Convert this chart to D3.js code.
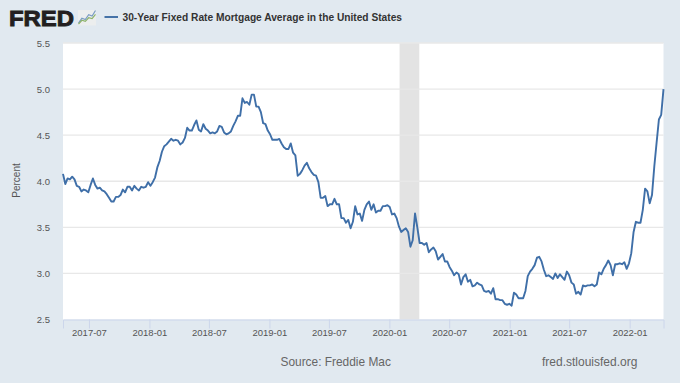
<!DOCTYPE html>
<html>
<head>
<meta charset="utf-8">
<script src="https://cdn.jsdelivr.net/npm/d3@7"></script>
<style>
  html, body { margin: 0; padding: 0; background: #e1e9f0; }
  svg { display: block; font-family: "Liberation Sans", Arial, sans-serif; }
</style>
</head>
<body>
<svg id="chart" width="680" height="383"></svg>
<script>
const title = '30-Year Fixed Rate Mortgage Average in the United States';
const sourceLabel = 'Source: Freddie Mac';
const siteLabel = 'fred.stlouisfed.org';
const yTicks = [2.5, 3.0, 3.5, 4.0, 4.5, 5.0, 5.5];
const xTicks = ['2017-07', '2018-01', '2018-07', '2019-01', '2019-07', '2020-01', '2020-07', '2021-01', '2021-07', '2022-01'];
const firstWeek = '2017-04-13';
const recession = ['2020-02-01', '2020-04-01'];
const logoUp = [0.1, 0.45, 0.35, 0.7, 0.6, 1.0];
const logoLow = [0.02, 0.3, 0.22, 0.48, 0.42, 0.72];

// weekly values, percent
const rates = [
  4.08, 3.97, 4.03, 4.02, 4.05, 4.02, 3.95, 3.94, 3.89, 3.91, 3.90, 3.88, 3.96, 4.03, 3.96, 3.92, 3.93, 3.90, 3.89, 3.86,
  3.82, 3.78, 3.78, 3.83, 3.83, 3.85, 3.91, 3.88, 3.94, 3.94, 3.90, 3.95, 3.92, 3.90, 3.94, 3.93, 3.94, 3.99,
  3.95, 3.99, 4.04, 4.15, 4.22, 4.32, 4.38, 4.40, 4.43, 4.46, 4.44, 4.45, 4.44, 4.40, 4.42, 4.47, 4.58, 4.55, 4.55, 4.61,
  4.66, 4.56, 4.54, 4.62, 4.57, 4.55, 4.52, 4.53, 4.52, 4.54, 4.60, 4.59, 4.53, 4.51, 4.52, 4.54, 4.60, 4.65, 4.71, 4.71,
  4.90, 4.85, 4.86, 4.83, 4.94, 4.94, 4.81, 4.81, 4.75, 4.63, 4.62, 4.55,
  4.51, 4.45, 4.45, 4.45, 4.46, 4.41, 4.37, 4.35, 4.35, 4.41, 4.31, 4.28, 4.06, 4.08, 4.12, 4.17, 4.20, 4.14, 4.10, 4.07,
  4.06, 3.99, 3.82, 3.82, 3.84, 3.73, 3.75, 3.75, 3.81, 3.75, 3.75, 3.60, 3.60, 3.55, 3.58, 3.49, 3.56, 3.73, 3.64, 3.65,
  3.57, 3.69, 3.75, 3.78, 3.69, 3.75, 3.66, 3.68, 3.68, 3.73, 3.73, 3.74,
  3.72, 3.64, 3.65, 3.60, 3.51, 3.45, 3.47, 3.49, 3.45, 3.29, 3.36, 3.65, 3.50, 3.33, 3.33, 3.31, 3.33, 3.23, 3.26, 3.28,
  3.24, 3.15, 3.18, 3.21, 3.13, 3.13, 3.07, 3.03, 2.98, 3.01, 2.99, 2.88, 2.96, 2.99, 2.91, 2.93, 2.86, 2.87, 2.90, 2.88,
  2.87, 2.81, 2.80, 2.81, 2.78, 2.84, 2.72, 2.72, 2.71, 2.71, 2.67, 2.66, 2.67,
  2.65, 2.79, 2.77, 2.73, 2.73, 2.73, 2.81, 2.97, 3.02, 3.05, 3.09, 3.17, 3.18, 3.13, 3.04, 2.97, 2.98, 2.96, 2.94, 3.00,
  2.95, 2.99, 2.96, 2.93, 3.02, 2.98, 2.90, 2.88, 2.78, 2.80, 2.77, 2.87, 2.86, 2.87, 2.87, 2.88, 2.86, 2.88, 3.01, 2.99,
  3.05, 3.09, 3.14, 3.09, 2.98, 3.10, 3.10, 3.11, 3.10, 3.12, 3.05, 3.11,
  3.22, 3.45, 3.56, 3.55, 3.55, 3.69, 3.92, 3.89, 3.76, 3.85, 4.16, 4.42, 4.67, 4.72, 5.00
];

const parseDay = d3.utcParse('%Y-%m-%d');
const parseMonth = d3.utcParse('%Y-%m');
const dates = rates.map((_, i) => d3.utcDay.offset(parseDay(firstWeek), i * 7));

const plot = { left: 63, right: 663.5, top: 43, bottom: 319.5 };

const x = d3.scaleUtc()
  .domain(d3.extent(dates))
  .range([plot.left, plot.right]);
const y = d3.scaleLinear()
  .domain([2.5, 5.5])
  .range([plot.bottom, plot.top]);

const svg = d3.select('#chart');

svg.append('rect')
  .attr('x', plot.left).attr('y', plot.top)
  .attr('width', plot.right - plot.left).attr('height', plot.bottom - plot.top)
  .attr('fill', '#fff');

svg.append('rect')
  .attr('x', x(parseDay(recession[0]))).attr('y', plot.top)
  .attr('width', x(parseDay(recession[1])) - x(parseDay(recession[0])))
  .attr('height', plot.bottom - plot.top)
  .attr('fill', '#e3e3e3');

// horizontal grid
svg.append('g')
  .selectAll('line')
  .data(yTicks.slice(1))
  .join('line')
  .attr('x1', plot.left).attr('x2', plot.right)
  .attr('y1', d => y(d)).attr('y2', d => y(d))
  .attr('stroke', '#e8e8e8').attr('stroke-width', 1.3);

const xAxis = d3.axisBottom(x)
  .tickValues(xTicks.map(parseMonth))
  .tickFormat(d3.utcFormat('%Y-%m'))
  .tickSize(9)
  .tickPadding(1);

const xg = svg.append('g')
  .attr('transform', `translate(0,${plot.bottom})`)
  .call(xAxis);
xg.select('.domain').attr('stroke', '#ccd6eb');
xg.selectAll('.tick line').attr('stroke', '#ccd6eb');
xg.selectAll('text')
  .attr('fill', '#555').style('font-size', '9.5px').style('font-family', '"Liberation Sans", Arial, sans-serif');

const yAxis = d3.axisLeft(y)
  .tickValues(yTicks)
  .tickFormat(d3.format('.1f'))
  .tickSize(0)
  .tickPadding(13);

const yg = svg.append('g')
  .attr('transform', `translate(${plot.left},0)`)
  .call(yAxis);
yg.select('.domain').remove();
yg.selectAll('text')
  .attr('fill', '#555').style('font-size', '9.5px').style('font-family', '"Liberation Sans", Arial, sans-serif');

svg.append('text')
  .attr('transform', 'translate(20,180.5) rotate(-90)')
  .attr('text-anchor', 'middle')
  .attr('fill', '#555').attr('font-size', 10)
  .text('Percent');

const line = d3.line()
  .x((d, i) => x(dates[i]))
  .y(d => y(d));

svg.append('path')
  .datum(rates)
  .attr('d', line)
  .attr('fill', 'none')
  .attr('stroke', '#3f6fa8')
  .attr('stroke-width', 1.9)
  .attr('stroke-linejoin', 'round');

// header
svg.append('text')
  .attr('x', 9).attr('y', 25.5)
  .attr('font-size', 22.5).attr('font-weight', 700)
  .attr('fill', '#231f20').attr('stroke', '#231f20').attr('stroke-width', 0.9)
  .attr('textLength', 65).attr('lengthAdjust', 'spacingAndGlyphs')
  .text('FRED');

const logo = svg.append('g').attr('transform', 'translate(78,10)');
logo.append('rect').attr('width', 18).attr('height', 15.5).attr('fill', '#eceeee');
const lx = d3.scaleLinear().domain([0, logoUp.length - 1]).range([0.5, 17.5]);
const ly = d3.scaleLinear().domain([0, 1]).range([14.5, 0.5]);
[[logoUp, '#7a9cc4'], [logoLow, '#8db36a']].forEach(([vals, col]) => {
  logo.append('path')
    .attr('d', d3.line().x((d, i) => lx(i)).y(d => ly(d))(vals))
    .attr('fill', 'none').attr('stroke', col).attr('stroke-width', 1.2);
});

svg.append('line')
  .attr('x1', 104.5).attr('x2', 118).attr('y1', 17).attr('y2', 17)
  .attr('stroke', '#4572a7').attr('stroke-width', 2);

svg.append('text')
  .attr('x', 122.5).attr('y', 20.5)
  .attr('font-size', 10.2).attr('font-weight', 700)
  .attr('fill', '#333')
  .text(title);

svg.append('text')
  .attr('x', 280.5).attr('y', 366)
  .attr('font-size', 11.9).attr('fill', '#666')
  .text(sourceLabel);

svg.append('text')
  .attr('x', 542).attr('y', 366)
  .attr('font-size', 12).attr('fill', '#666')
  .text(siteLabel);
</script>
</body>
</html>
